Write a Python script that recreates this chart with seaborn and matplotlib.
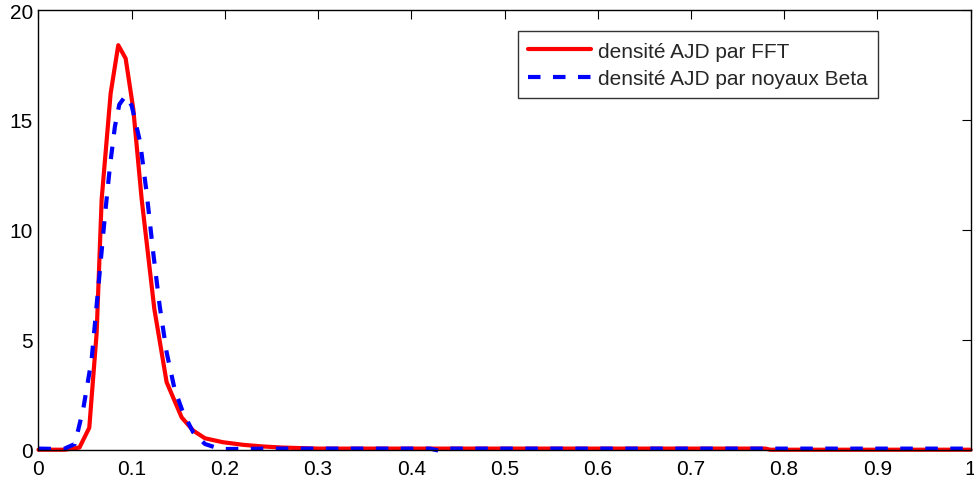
import numpy as np
import pandas as pd
import matplotlib
matplotlib.use("Agg")
import matplotlib.pyplot as plt
import seaborn as sns

# Density estimated by FFT inversion
x_fft = [0.0, 0.028, 0.044, 0.0545, 0.0624, 0.0678, 0.0774, 0.0856, 0.0935,
         0.1017, 0.1107, 0.1243, 0.1375, 0.1536, 0.166, 0.1786, 0.198, 0.22,
         0.24, 0.26, 0.30, 0.50, 0.70, 0.78, 0.785, 0.90, 1.0]
y_fft = [0.0, 0.0, 0.1, 1.0, 5.3, 11.4, 16.2, 18.4, 17.8,
         15.5, 11.4, 6.4, 3.07, 1.47, 0.87, 0.52, 0.34, 0.22,
         0.15, 0.1, 0.05, 0.05, 0.05, 0.05, 0.0, 0.0, 0.0]

# Density estimated with Beta kernels
x_beta = [0.0, 0.027, 0.039, 0.048, 0.057, 0.064, 0.0713, 0.0767, 0.082,
          0.0867, 0.0935, 0.1, 0.109, 0.116, 0.123, 0.130, 0.1375, 0.146,
          0.155, 0.166, 0.1786, 0.195, 0.25, 0.42, 0.43, 0.44, 0.6, 0.8, 1.0]
y_beta = [0.05, 0.03, 0.26, 1.85, 4.1, 7.3, 10.65, 12.9, 14.7,
          15.7, 16.1, 15.65, 14.0, 11.7, 9.0, 6.55, 4.43, 2.76,
          1.7, 0.79, 0.26, 0.03, 0.05, 0.05, -0.05, 0.05, 0.05, 0.05, 0.05]

labels = ["densité AJD par FFT", "densité AJD par noyaux Beta"]

df = pd.concat([
    pd.DataFrame({"x": x_fft, "y": y_fft, "serie": labels[0]}),
    pd.DataFrame({"x": x_beta, "y": y_beta, "serie": labels[1]}),
])

sns.set_theme(style="white")
plt.rcParams["font.family"] = ["Liberation Sans", "DejaVu Sans"]

fig = plt.figure(figsize=(9.74, 4.85), dpi=100)
ax = fig.add_axes([0.0395, 0.0707, 0.957, 0.9066])

sns.lineplot(data=df, x="x", y="y", hue="serie", style="serie",
             palette={labels[0]: "#ff0000", labels[1]: "#0000ff"},
             dashes={labels[0]: "", labels[1]: (3, 3)},
             linewidth=3, sort=False, estimator=None, ax=ax)
for ln in ax.lines:
    ln.set_clip_on(False)

ax.set_xlim(0, 1)
ax.set_ylim(0, 20)
ax.set_xticks(np.arange(0, 1.01, 0.1))
ax.set_xticklabels(["0", "0.1", "0.2", "0.3", "0.4", "0.5", "0.6", "0.7", "0.8", "0.9", "1"])
ax.set_yticks([0, 5, 10, 15, 20])
ax.set_xlabel("")
ax.set_ylabel("")
for s in ax.spines.values():
    s.set_color("black")
    s.set_linewidth(1.0)
ax.tick_params(direction="in", length=6.5, width=0.8, colors="black",
               top=True, right=True, labelsize=15)
ax.tick_params(axis="x", pad=7)
ax.tick_params(axis="y", pad=4)

leg = ax.legend(loc="upper right", bbox_to_anchor=(0.9006, 0.952),
                fontsize=15, frameon=True, fancybox=False, borderaxespad=0,
                handlelength=3.0, handletextpad=0.33, labelspacing=0.4,
                borderpad=0.5)
leg.get_frame().set_edgecolor("black")
leg.get_frame().set_linewidth(1.0)

fig.savefig("out.png", dpi=100)
